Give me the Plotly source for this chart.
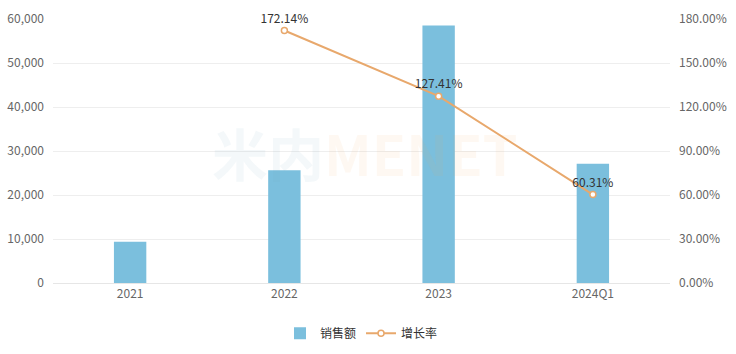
import plotly.graph_objects as go

categories = ["2021", "2022", "2023", "2024Q1"]
sales = [9400, 25600, 58500, 27100]
growth = [None, 172.14, 127.41, 60.31]
growth_labels = ["", "172.14%", "127.41%", "60.31%"]
left_ticks = [0, 10000, 20000, 30000, 40000, 50000, 60000]
right_ticks = [0, 30, 60, 90, 120, 150, 180]
right_tick_text = ["0.00%", "30.00%", "60.00%", "90.00%", "120.00%", "150.00%", "180.00%"]

font_family = "Noto Sans CJK SC, Microsoft YaHei, sans-serif"

fig = go.Figure()
fig.add_trace(go.Bar(
    x=categories, y=sales, name="销售额",
    marker=dict(color="#7BBFDD", line=dict(width=0)),
    width=0.21, yaxis="y",
))
fig.add_trace(go.Scatter(
    x=categories, y=growth, name="增长率", yaxis="y2",
    mode="lines+markers+text",
    line=dict(color="#E8A86C", width=2),
    marker=dict(symbol="circle", size=6, color="white", line=dict(color="#E8A86C", width=1.5)),
    text=growth_labels, textposition="top center",
    textfont=dict(size=12, color="#333333", family=font_family),
    cliponaxis=False,
))

fig.add_annotation(
    x=0.505, y=0.5, xref="paper", yref="paper",
    text="<b><span style='color:rgba(120,160,190,0.08)'>米内</span><span style='color:rgba(240,160,90,0.08)'>MENET</span></b>",
    showarrow=False, font=dict(size=56, family=font_family),
)

fig.update_layout(
    width=736, height=354,
    margin=dict(l=53, r=66, t=19, b=71, autoexpand=False),
    paper_bgcolor="white", plot_bgcolor="white",
    font=dict(family=font_family, size=12, color="#666666"),
    showlegend=True,
    legend=dict(orientation="h", x=0.5, xanchor="center", y=-0.19, yanchor="middle",
                font=dict(size=12, color="#333333")),
    xaxis=dict(type="category", showgrid=False, showline=True, linecolor="#E6E6E6",
               ticks="", tickfont=dict(size=12, color="#666666"), automargin=False),
    yaxis=dict(range=[0, 60000], tickvals=left_ticks, tickformat=",d",
               showgrid=True, gridcolor="#EEEEEE", zeroline=False, showline=False,
               tickfont=dict(size=12, color="#666666"), ticklabelstandoff=8, automargin=False),
    yaxis2=dict(range=[0, 180], tickvals=right_ticks, ticktext=right_tick_text,
                overlaying="y", side="right", showgrid=False, zeroline=False,
                tickfont=dict(size=12, color="#666666"), ticklabelstandoff=8, automargin=False),
)

fig.write_html("out.html")
